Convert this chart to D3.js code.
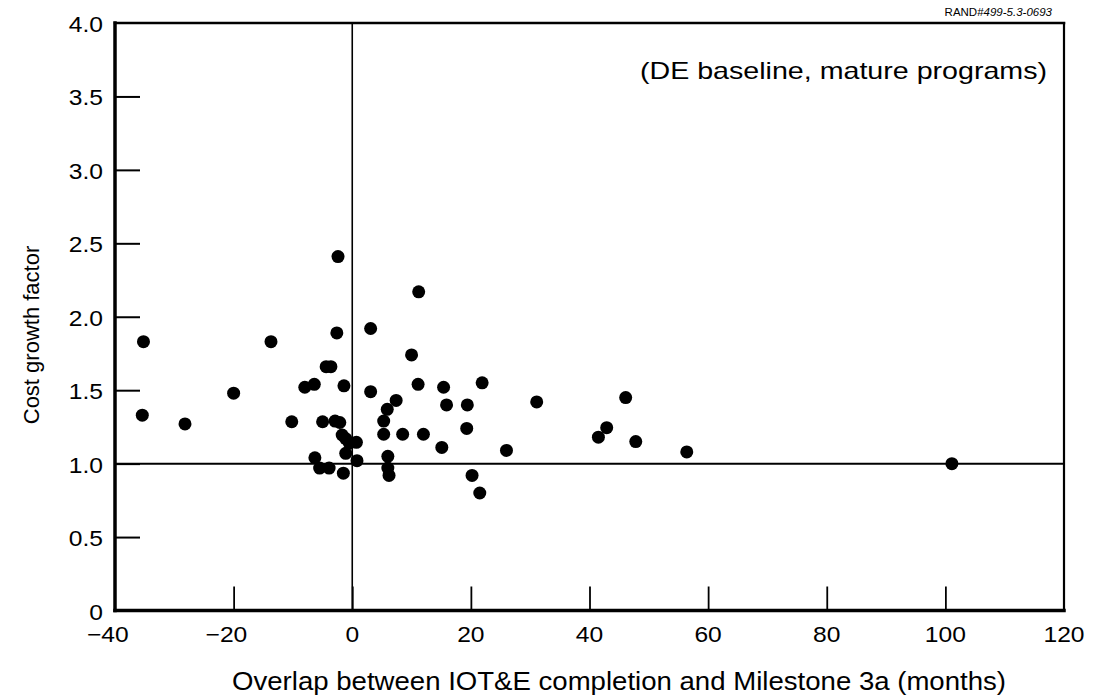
<!DOCTYPE html>
<html><head><meta charset="utf-8">
<script src="https://cdn.jsdelivr.net/npm/d3@7"></script>
<style>body{margin:0;background:#fff} svg{display:block}</style>
</head><body>
<script>
// ---- data ----
const overlapMonths = [-35.2,-35.4,-28.2,-20.0,-13.7,-10.2,-2.4,11.2,-2.6,3.1,
  -4.4,-3.6,-8.0,-6.4,-1.4,3.1,10.0,11.1,15.4,21.9,
  7.4,15.9,19.4,31.1,5.9,-5.0,-2.9,-2.1,5.3,19.3,
  -1.7,-1.1,-0.5,0.7,5.3,8.5,12.0,15.1,26.0,-1.1,
  -6.3,0.8,6.0,-5.5,-3.9,6.0,6.2,-1.5,20.2,21.5,
  46.1,42.9,41.5,47.8,56.4,101.1];
const costGrowth = [1.83,1.33,1.27,1.48,1.83,1.285,2.41,2.17,1.89,1.92,
  1.66,1.66,1.52,1.54,1.53,1.49,1.74,1.54,1.52,1.55,
  1.43,1.40,1.40,1.42,1.37,1.285,1.29,1.28,1.29,1.24,
  1.195,1.17,1.14,1.145,1.20,1.20,1.20,1.11,1.09,1.07,
  1.04,1.02,1.05,0.97,0.97,0.97,0.92,0.935,0.92,0.80,
  1.45,1.245,1.18,1.15,1.08,1.00];
const xTickValues = [-40,-20,0,20,40,60,80,100,120];
const xTickLabels = ["\u221240","\u221220","0","20","40","60","80","100","120"];
const yTickValues = [0,0.5,1,1.5,2,2.5,3,3.5,4];
const yTickLabels = ["0","0.5","1.0","1.5","2.0","2.5","3.0","3.5","4.0"];
const annotationText = "(DE baseline, mature programs)";
const xTitle = "Overlap between IOT&E completion and Milestone 3a (months)";
const yTitle = "Cost growth factor";
const sourcePrefix = "RAND#";
const sourceNumber = "499-5.3-0693";

// ---- layout ----
const W = 1097, H = 700;
const m = {l: 115, r: 33, t: 23, b: 89.5};
const font = "'Liberation Sans', Arial, Helvetica, sans-serif";
const x = d3.scaleLinear().domain([-40, 120]).range([m.l, W - m.r]);
const y = d3.scaleLinear().domain([0, 4]).range([H - m.b, m.t]);

const svg = d3.select("body").append("svg").attr("width", W).attr("height", H)
  .style("font-family", font);
svg.append("rect").attr("width", W).attr("height", H).attr("fill", "#fff");

// inward ticks
const yInner = yTickValues.filter(v => v > 0 && v < 4);
svg.append("g").attr("transform", `translate(${m.l},0)`)
  .call(d3.axisRight(y).tickValues(yInner).tickSize(25).tickFormat(""))
  .call(g => g.select(".domain").remove())
  .selectAll("line").attr("stroke", "#000").attr("stroke-width", 2);
const xInner = xTickValues.filter(v => v > -40 && v < 120);
svg.append("g").attr("transform", `translate(0,${y(0)})`)
  .call(d3.axisTop(x).tickValues(xInner).tickSize(24).tickFormat(""))
  .call(g => g.select(".domain").remove())
  .selectAll("line").attr("stroke", "#000").attr("stroke-width", 1.8);

// reference lines
svg.append("line").attr("x1", x(-40)).attr("x2", x(120)).attr("y1", y(1)).attr("y2", y(1))
  .attr("stroke", "#000").attr("stroke-width", 2);
svg.append("line").attr("x1", x(0)).attr("x2", x(0)).attr("y1", y(4)).attr("y2", y(0))
  .attr("stroke", "#000").attr("stroke-width", 1.6);

// frame
const frame = svg.append("g").attr("stroke", "#000").attr("stroke-linecap", "square");
frame.append("line").attr("x1", x(-40)).attr("x2", x(120)).attr("y1", y(4)).attr("y2", y(4)).attr("stroke-width", 2.5);
frame.append("line").attr("x1", x(120)).attr("x2", x(120)).attr("y1", y(4)).attr("y2", y(0)).attr("stroke-width", 2.2);
frame.append("line").attr("x1", x(-40)).attr("x2", x(120)).attr("y1", y(0)).attr("y2", y(0)).attr("stroke-width", 3.5);
frame.append("line").attr("x1", x(-40)).attr("x2", x(-40)).attr("y1", y(4)).attr("y2", y(0)).attr("stroke-width", 3.5);

// points
const pts = overlapMonths.map((v, i) => ({x: v, y: costGrowth[i]}));
svg.append("g").selectAll("circle").data(pts).join("circle")
  .attr("cx", d => x(d.x)).attr("cy", d => y(d.y)).attr("r", 6.5).attr("fill", "#000");

// y tick labels
svg.append("g").selectAll("text").data(yTickValues).join("text")
  .attr("transform", d => `translate(103,${y(d) + 1.5}) scale(1.12,1)`)
  .attr("text-anchor", "end").attr("dominant-baseline", "central")
  .attr("font-size", 22).text((d, i) => yTickLabels[i]);

// x tick labels (digits centred on the tick, minus sign hanging left)
const xl = svg.append("g");
xTickValues.forEach((v, i) => {
  const lab = xTickLabels[i];
  const digits = lab.replace("\u2212", "");
  const t = xl.append("text").attr("transform", `translate(${x(v)},642) scale(1.12,1)`)
    .attr("text-anchor", "middle").attr("font-size", 22).text(digits);
  if (digits !== lab) {
    const w = t.node().getComputedTextLength() * 1.12;
    xl.append("text").attr("transform", `translate(${x(v) - w / 2},642) scale(1.12,1)`)
      .attr("text-anchor", "end").attr("font-size", 22).text("\u2212");
  }
});

// titles
svg.append("text").attr("x", 619).attr("y", 690).attr("text-anchor", "middle")
  .attr("font-size", 25).attr("textLength", 774).attr("lengthAdjust", "spacingAndGlyphs")
  .text(xTitle);
svg.append("text").attr("transform", "translate(39,335) rotate(-90)").attr("text-anchor", "middle")
  .attr("font-size", 22).text(yTitle);

// annotation
svg.append("text").attr("x", 640).attr("y", 79)
  .attr("font-size", 24).attr("textLength", 407).attr("lengthAdjust", "spacingAndGlyphs")
  .text(annotationText);

// source id
const src = svg.append("text").attr("x", 1052).attr("y", 16).attr("text-anchor", "end")
  .attr("font-size", 11.5);
src.append("tspan").text(sourcePrefix);
src.append("tspan").attr("font-style", "italic").text(sourceNumber);
</script>
</body></html>
